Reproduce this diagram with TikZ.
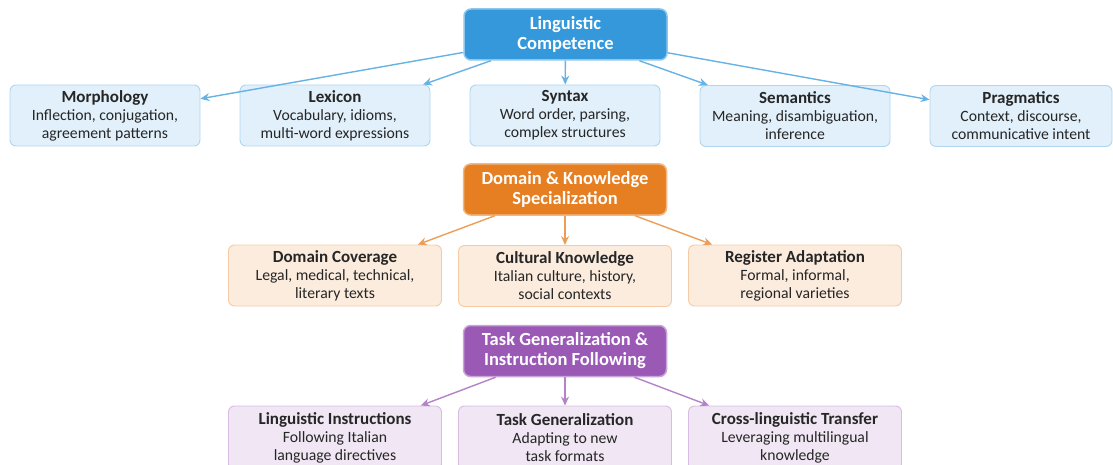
\documentclass[tikz,border=0pt]{standalone}
\usepackage{fontspec}
\setmainfont{Carlito}
\usetikzlibrary{arrows.meta}
\definecolor{cblue}{HTML}{3498DB}
\definecolor{corange}{HTML}{E67E22}
\definecolor{cpurple}{HTML}{9B59B6}
\newcommand{\ttl}[1]{{\fontsize{17}{18}\selectfont\bfseries #1}}
\tikzset{
  mainbox/.style={draw=#1!55!white, fill=#1, line width=1.5pt, rounded corners=7pt,
    text=white, font=\fontsize{18.5}{20}\selectfont\bfseries, align=center,
    minimum width=203pt, minimum height=51pt, inner sep=0pt},
  subbox/.style={draw=#1!40!white, fill=#1!15!white, line width=0.9pt, rounded corners=6pt,
    text=black!85, font=\fontsize{15.7}{18}\selectfont, align=center,
    minimum height=61pt, inner sep=0pt},
  conn/.style={draw=#1!75!white, line width=1.4pt, -{Stealth[length=9pt,width=8pt,inset=3pt]}},
}
\begin{document}
\begin{tikzpicture}[x=1pt,y=1pt]
\useasboundingbox (0,0) rectangle (1113,-465);
\clip (0,0) rectangle (1113,-465);
% Level 1
\node[mainbox=cblue] (lc) at (565.5,-34.5) {Linguistic\\Competence};
\node[subbox=cblue, minimum width=190pt] (morph) at (105,-115.5) {\ttl{Morphology}\\Inflection, conjugation,\\agreement patterns};
\node[subbox=cblue, minimum width=190pt] (lex) at (335,-115.5) {\ttl{Lexicon}\\Vocabulary, idioms,\\multi-word expressions};
\node[subbox=cblue, minimum width=190pt] (syn) at (565,-115.5) {\ttl{Syntax}\\Word order, parsing,\\complex structures};
\node[subbox=cblue, minimum width=190pt] (sem) at (795,-116) {\ttl{Semantics}\\Meaning, disambiguation,\\inference};
\node[subbox=cblue, minimum width=182pt] (prag) at (1021,-116) {\ttl{Pragmatics}\\Context, discourse,\\communicative intent};
\foreach \t in {morph,lex,syn,sem,prag} \draw[conn=cblue] (lc) -- (\t);
% Level 2
\node[mainbox=corange] (dk) at (565,-189.5) {Domain \& Knowledge\\Specialization};
\node[subbox=corange, minimum width=213pt] (dc) at (335,-275.5) {\ttl{Domain Coverage}\\Legal, medical, technical,\\literary texts};
\node[subbox=corange, minimum width=213pt] (ck) at (565,-276) {\ttl{Cultural Knowledge}\\Italian culture, history,\\social contexts};
\node[subbox=corange, minimum width=213pt] (ra) at (795,-275.5) {\ttl{Register Adaptation}\\Formal, informal,\\regional varieties};
\foreach \t in {dc,ck,ra} \draw[conn=corange] (dk) -- (\t);
% Level 3
\node[mainbox=cpurple] (tg) at (565,-351) {Task Generalization \&\\Instruction Following};
\node[subbox=cpurple, minimum width=213pt, minimum height=64pt] (li) at (335,-438) {\ttl{Linguistic Instructions}\\Following Italian\\language directives};
\node[subbox=cpurple, minimum width=213pt, minimum height=64pt] (tgen) at (565,-438) {\ttl{Task Generalization}\\Adapting to new\\task formats};
\node[subbox=cpurple, minimum width=213pt, minimum height=64pt] (clt) at (795,-438) {\ttl{Cross-linguistic Transfer}\\Leveraging multilingual\\knowledge};
\foreach \t in {li,tgen,clt} \draw[conn=cpurple] (tg) -- (\t);
\end{tikzpicture}
\end{document}
